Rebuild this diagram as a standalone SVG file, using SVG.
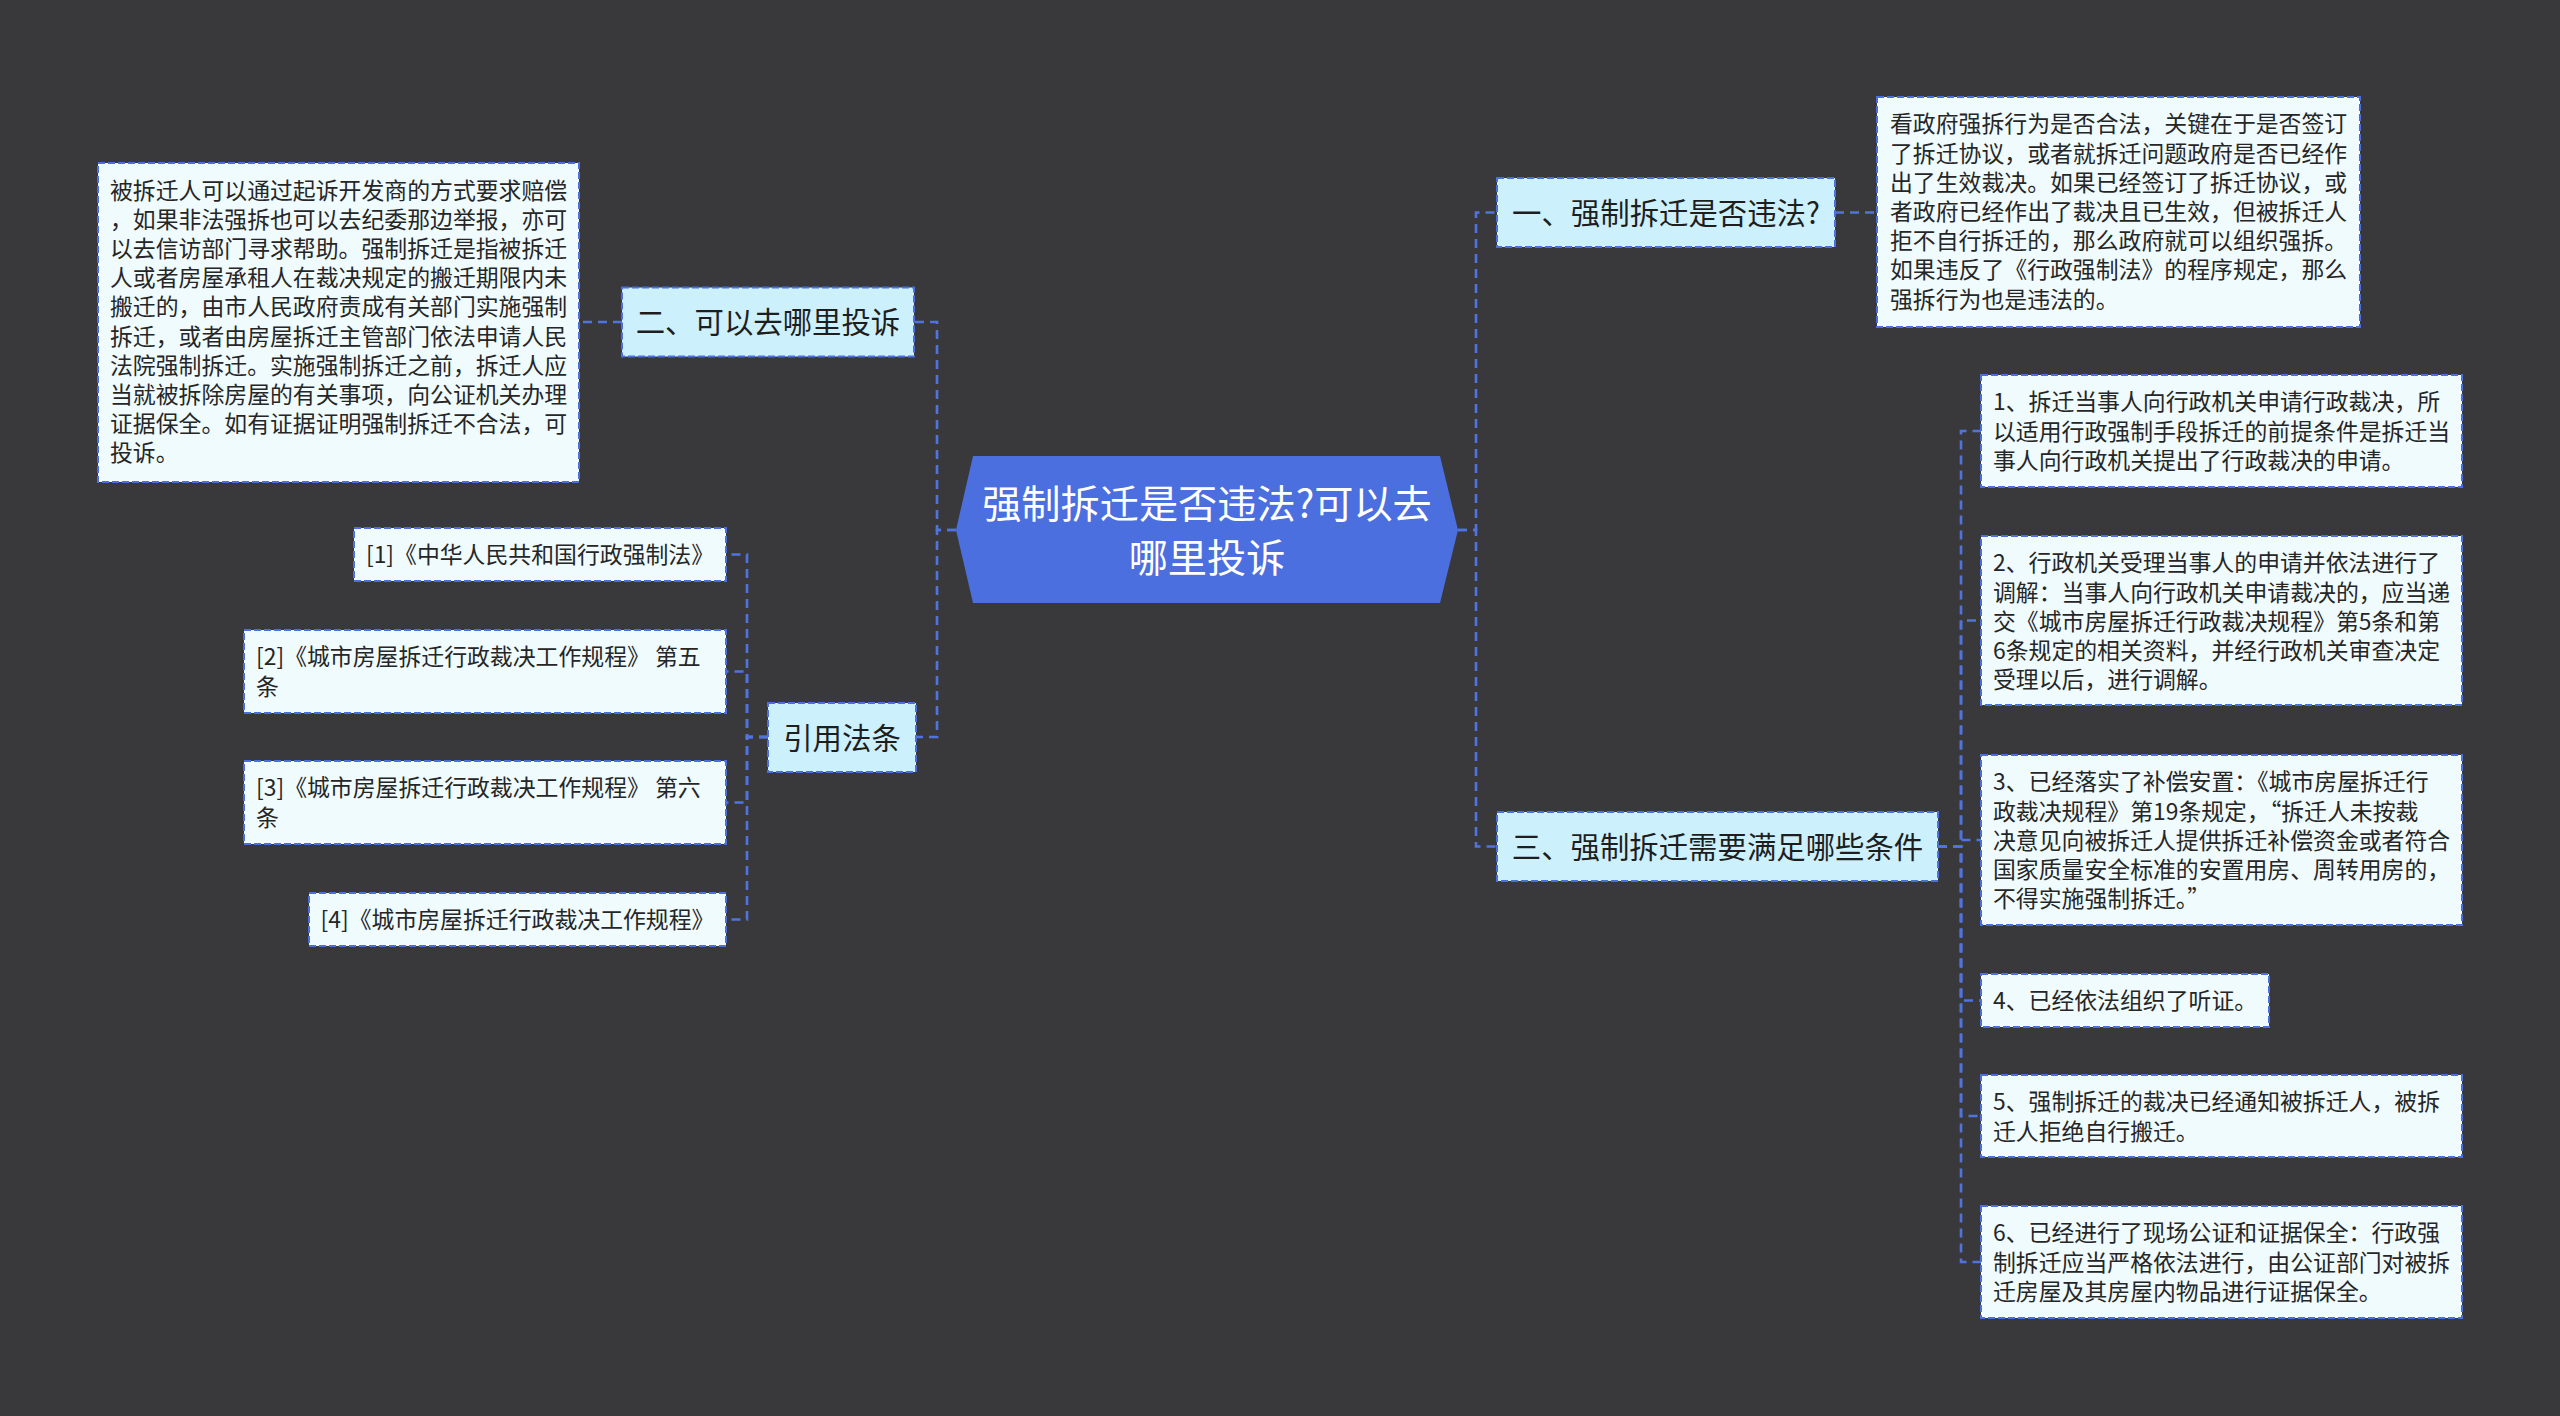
<svg xmlns="http://www.w3.org/2000/svg" width="2560" height="1416" viewBox="0 0 2560 1416">
<style>
.bg{fill:#39393b}
.leaf{fill:#effbfd;stroke:#4b6fdf;stroke-width:2;stroke-dasharray:7 3}
.node{fill:#cdf0fd;stroke:#4b6fdf;stroke-width:2;stroke-dasharray:7 3}
.root{fill:#4b6fdf}
.t{font-family:"Noto Sans CJK SC","Microsoft YaHei",sans-serif;font-size:22.86px;fill:#262626}
.nt{font-family:"Noto Sans CJK SC","Microsoft YaHei",sans-serif;font-size:29.4px;fill:#1e1e1e;text-anchor:middle}
.ct{font-family:"Noto Sans CJK SC","Microsoft YaHei",sans-serif;font-size:39.2px;fill:#ffffff;text-anchor:middle}
.conn path{fill:none;stroke:#5073e0;stroke-width:2.6;stroke-dasharray:9 6}
</style>
<rect class="bg" x="0" y="0" width="2560" height="1416"/>
<g class="conn" id="connectors">
<path d="M956 530 H937 V322 H914"/>
<path d="M956 530 H937 V737 H916"/>
<path d="M622 322 H579"/>
<path d="M768 737 H747 V554.5 H726"/>
<path d="M768 737 H747 V671.5 H726"/>
<path d="M768 737 H747 V802.5 H726"/>
<path d="M768 737 H747 V919.5 H726"/>
<path d="M1458 530 H1476 V212.5 H1497"/>
<path d="M1458 530 H1476 V846.5 H1497"/>
<path d="M1835 212.5 H1877"/>
<path d="M1938 846.5 H1961 V431 H1981"/>
<path d="M1938 846.5 H1961 V620.5 H1981"/>
<path d="M1938 846.5 H1961 V840 H1981"/>
<path d="M1938 846.5 H1961 V1000.5 H1981"/>
<path d="M1938 846.5 H1961 V1116 H1981"/>
<path d="M1938 846.5 H1961 V1262 H1981"/>
</g>
<g id="root">
<polygon class="root" points="973,456 1440,456 1458,530 1440,603 973,603 956,530"/>
<text class="ct" x="1207" y="518">强制拆迁是否违法?可以去</text>
<text class="ct" x="1207" y="572">哪里投诉</text>
</g>
<g id="n2">
<rect class="node" x="622" y="287.5" width="292" height="69"/>
<text class="nt" x="768" y="333">二、可以去哪里投诉</text>
</g>
<g id="n2-detail">
<rect class="leaf" x="98" y="163" width="481" height="319"/>
<text class="t" x="110" y="198.5"><tspan x="110">被拆迁人可以通过起诉开发商的方式要求赔偿</tspan><tspan x="110" dy="29.2">，如果非法强拆也可以去纪委那边举报，亦可</tspan><tspan x="110" dy="29.2">以去信访部门寻求帮助。强制拆迁是指被拆迁</tspan><tspan x="110" dy="29.2">人或者房屋承租人在裁决规定的搬迁期限内未</tspan><tspan x="110" dy="29.2">搬迁的，由市人民政府责成有关部门实施强制</tspan><tspan x="110" dy="29.2">拆迁，或者由房屋拆迁主管部门依法申请人民</tspan><tspan x="110" dy="29.2">法院强制拆迁。实施强制拆迁之前，拆迁人应</tspan><tspan x="110" dy="29.2">当就被拆除房屋的有关事项，向公证机关办理</tspan><tspan x="110" dy="29.2">证据保全。如有证据证明强制拆迁不合法，可</tspan><tspan x="110" dy="29.2">投诉。</tspan></text>
</g>
<g id="refs">
<rect class="node" x="768" y="703" width="148" height="69"/>
<text class="nt" x="842" y="748.5">引用法条</text>
</g>
<g id="ref1">
<rect class="leaf" x="354" y="528" width="372" height="53"/>
<text class="t" x="540" y="563" text-anchor="middle">[1]《中华人民共和国行政强制法》</text>
</g>
<g id="ref2">
<rect class="leaf" x="244" y="630" width="482" height="83"/>
<text class="t" x="256" y="665.4"><tspan x="256">[2]《城市房屋拆迁行政裁决工作规程》 第五</tspan><tspan x="256" dy="29.2">条</tspan></text>
</g>
<g id="ref3">
<rect class="leaf" x="244" y="761" width="482" height="83"/>
<text class="t" x="256" y="796.4"><tspan x="256">[3]《城市房屋拆迁行政裁决工作规程》 第六</tspan><tspan x="256" dy="29.2">条</tspan></text>
</g>
<g id="ref4">
<rect class="leaf" x="309" y="893" width="417" height="53"/>
<text class="t" x="517.5" y="928" text-anchor="middle">[4]《城市房屋拆迁行政裁决工作规程》</text>
</g>
<g id="n1">
<rect class="node" x="1497" y="178" width="338" height="69"/>
<text class="nt" x="1666" y="223.5">一、强制拆迁是否违法?</text>
</g>
<g id="n1-detail">
<rect class="leaf" x="1877" y="97" width="483" height="230"/>
<text class="t" x="1890" y="132.4"><tspan x="1890">看政府强拆行为是否合法，关键在于是否签订</tspan><tspan x="1890" dy="29.2">了拆迁协议，或者就拆迁问题政府是否已经作</tspan><tspan x="1890" dy="29.2">出了生效裁决。如果已经签订了拆迁协议，或</tspan><tspan x="1890" dy="29.2">者政府已经作出了裁决且已生效，但被拆迁人</tspan><tspan x="1890" dy="29.2">拒不自行拆迁的，那么政府就可以组织强拆。</tspan><tspan x="1890" dy="29.2">如果违反了《行政强制法》的程序规定，那么</tspan><tspan x="1890" dy="29.2">强拆行为也是违法的。</tspan></text>
</g>
<g id="n3">
<rect class="node" x="1497" y="812" width="441" height="69"/>
<text class="nt" x="1717.5" y="857.5">三、强制拆迁需要满足哪些条件</text>
</g>
<g id="c1">
<rect class="leaf" x="1981" y="375" width="481" height="112"/>
<text class="t" x="1993" y="410.4"><tspan x="1993">1、拆迁当事人向行政机关申请行政裁决，所</tspan><tspan x="1993" dy="29.2">以适用行政强制手段拆迁的前提条件是拆迁当</tspan><tspan x="1993" dy="29.2">事人向行政机关提出了行政裁决的申请。</tspan></text>
</g>
<g id="c2">
<rect class="leaf" x="1981" y="536" width="481" height="169"/>
<text class="t" x="1993" y="571.4"><tspan x="1993">2、行政机关受理当事人的申请并依法进行了</tspan><tspan x="1993" dy="29.2">调解：当事人向行政机关申请裁决的，应当递</tspan><tspan x="1993" dy="29.2">交《城市房屋拆迁行政裁决规程》第5条和第</tspan><tspan x="1993" dy="29.2">6条规定的相关资料，并经行政机关审查决定</tspan><tspan x="1993" dy="29.2">受理以后，进行调解。</tspan></text>
</g>
<g id="c3">
<rect class="leaf" x="1981" y="755" width="481" height="170"/>
<text class="t" x="1993" y="790.4"><tspan x="1993">3、已经落实了补偿安置：《城市房屋拆迁行</tspan><tspan x="1993" dy="29.2">政裁决规程》第19条规定，“拆迁人未按裁</tspan><tspan x="1993" dy="29.2">决意见向被拆迁人提供拆迁补偿资金或者符合</tspan><tspan x="1993" dy="29.2">国家质量安全标准的安置用房、周转用房的，</tspan><tspan x="1993" dy="29.2">不得实施强制拆迁。”</tspan></text>
</g>
<g id="c4">
<rect class="leaf" x="1981" y="974" width="288" height="53"/>
<text class="t" x="1993" y="1009">4、已经依法组织了听证。</text>
</g>
<g id="c5">
<rect class="leaf" x="1981" y="1075" width="481" height="82"/>
<text class="t" x="1993" y="1110.4"><tspan x="1993">5、强制拆迁的裁决已经通知被拆迁人，被拆</tspan><tspan x="1993" dy="29.2">迁人拒绝自行搬迁。</tspan></text>
</g>
<g id="c6">
<rect class="leaf" x="1981" y="1206" width="481" height="112"/>
<text class="t" x="1993" y="1241.4"><tspan x="1993">6、已经进行了现场公证和证据保全：行政强</tspan><tspan x="1993" dy="29.2">制拆迁应当严格依法进行，由公证部门对被拆</tspan><tspan x="1993" dy="29.2">迁房屋及其房屋内物品进行证据保全。</tspan></text>
</g>
</svg>
